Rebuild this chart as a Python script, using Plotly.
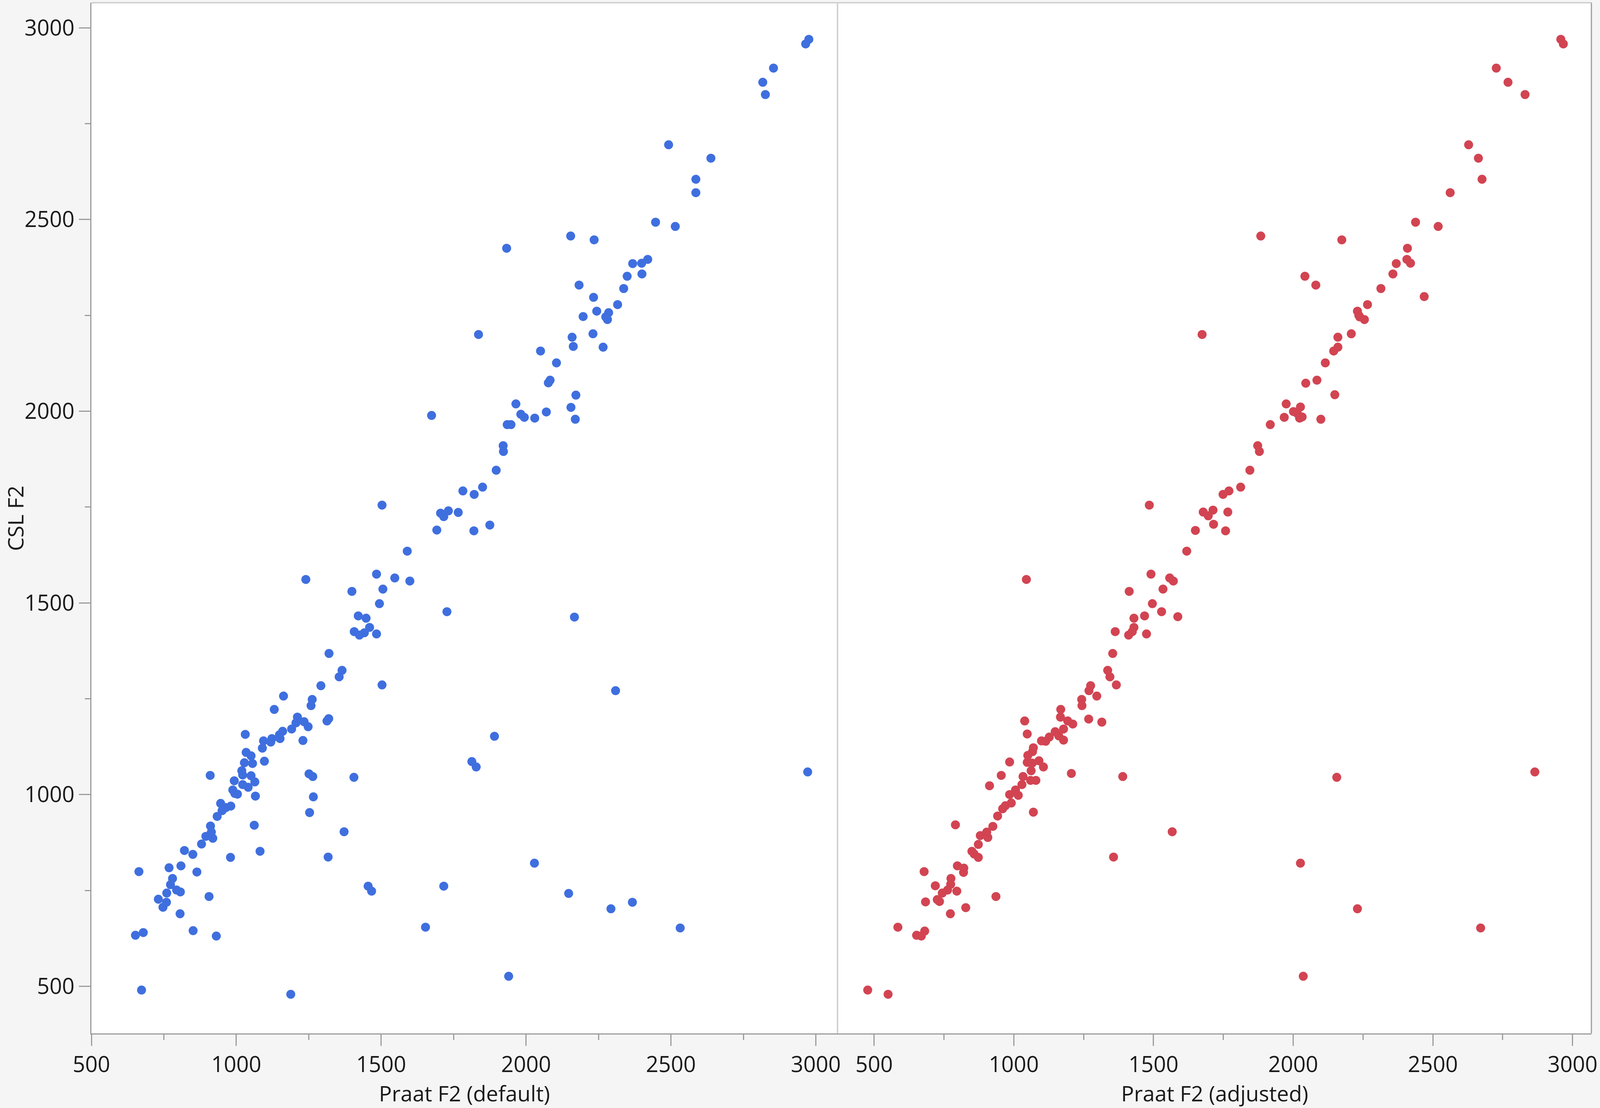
import plotly.graph_objects as go

# ---------------- data ----------------
# Left panel: Praat F2 (default) vs CSL F2
default_x = [
    2976, 2965, 2854, 2817, 2826, 2492, 2638, 2586, 2586, 2447, 2515, 2154, 2235, 1933, 2420, 2399, 2368, 2400,
    2349, 2337, 2183, 2233, 2316, 2244, 2285, 2275, 2281, 2197,
    2231, 2266, 2159, 2163, 1836, 2050, 2105, 2083, 2077, 2172,
    2155, 2170, 1965, 1982, 1994, 2030, 2070, 1935, 1948,
    1921, 1922, 1897, 1782, 1821, 1850, 1674, 1503,
    1705, 1716, 1732, 1766, 1692, 1820, 1875,
    1590, 1484, 1547, 1599, 1240, 1399, 1506, 1494, 1727, 1421, 1448, 1460, 1407, 1425, 1442, 1484,
    1320, 1365, 1355, 1503, 1292, 1163, 1262, 1258, 1131,
    1313, 1319, 1211, 1206, 1234, 1248, 1191,
    1160, 1149, 1151, 1123, 1119, 1094, 1090, 1230,
    1031, 1034, 1051, 1097, 1028, 1056,
    1019, 1022, 1051, 1064, 1022, 1041,
    910, 993, 988, 1004, 995, 1066,
    1251, 1264, 1266, 1253, 1406,
    946, 981, 964, 951, 934,
    911, 914, 895, 919, 880, 821, 850,
    1062, 1082, 980, 1372, 1317,
    768, 809, 864, 664, 780, 773, 794, 807, 760, 731, 759, 747, 906, 806,
    1455, 1467, 1716,
    851, 931, 652, 679, 1653,
    673, 1188,
    2167, 2309, 1891, 1813, 1828, 2972, 2029, 2147, 2293, 2367, 2532, 1940,
]
default_y = [
    2970, 2958, 2895, 2858, 2826, 2695, 2660, 2605, 2570, 2493, 2482, 2457, 2447, 2425, 2396, 2386, 2385, 2358,
    2352, 2320, 2329, 2297, 2278, 2261, 2257, 2246, 2239, 2247,
    2202, 2167, 2193, 2169, 2200, 2157, 2126, 2081, 2074, 2042,
    2010, 1979, 2019, 1992, 1984, 1982, 1998, 1965, 1965,
    1910, 1895, 1846, 1792, 1783, 1802, 1989, 1755,
    1734, 1725, 1740, 1736, 1690, 1688, 1703,
    1635, 1575, 1565, 1557, 1561, 1530, 1536, 1498, 1477, 1466, 1460, 1436, 1425, 1416, 1422, 1419,
    1368, 1324, 1307, 1286, 1284, 1257, 1248, 1232, 1222,
    1192, 1198, 1202, 1187, 1190, 1177, 1171,
    1165, 1156, 1146, 1146, 1137, 1140, 1121, 1141,
    1157, 1110, 1101, 1087, 1083, 1081,
    1062, 1051, 1049, 1033, 1026, 1019,
    1050, 1036, 1012, 1001, 1003, 996,
    1054, 1047, 994, 953, 1045,
    977, 970, 966, 958, 943,
    918, 902, 891, 886, 871, 854, 844,
    920, 852, 836, 903, 837,
    809, 814, 798, 799, 781, 765, 751, 746, 743, 727, 719, 706, 734, 689,
    761, 748, 761,
    645, 631, 633, 640, 654,
    490, 479,
    1463, 1271, 1152, 1086, 1072, 1059, 821, 742, 702, 719, 652, 526,
]

# Right panel: Praat F2 (adjusted) vs CSL F2
adjusted_x = [
    2958, 2967, 2727, 2769, 2830, 2628, 2663, 2676, 2562, 2438, 2519, 1884, 2174, 2409, 2407, 2420, 2369, 2357, 2469,
    2042, 2081, 2314, 2266, 2230, 2235, 2238, 2255, 2208, 2160, 2160, 2145, 2115, 2085, 2045, 2149,
    1975, 2026, 2001, 2015, 2032, 2023, 1968, 2099, 1918,
    1674, 1873, 1879, 1845, 1812, 1770, 1749,
    1766, 1678, 1713, 1696, 1715, 1485, 1650, 1758,
    1619, 1491, 1558, 1571, 1045, 1413, 1534, 1496, 1529, 1587, 1468, 1430, 1430, 1424, 1411, 1475, 1363,
    1354, 1336, 1344, 1367, 1275, 1269, 1297, 1243, 1244, 1268, 1315,
    1168, 1167, 1193, 1211, 1178, 1148, 1127, 1161, 1178, 1099, 1114,
    1039, 1048, 1070, 1067, 1050, 1090, 1106, 1048, 1066, 1062,
    985, 955, 1033, 1060, 1079, 1206, 1390, 1029, 913,
    1006, 985, 1016, 991, 970, 960, 942, 1070,
    925, 903, 880, 907, 873, 791, 850, 858, 873, 1357, 1567,
    679, 798, 821, 820, 775, 719, 774, 744, 763, 796, 726, 734, 684, 828, 773, 936,
    585, 681, 652, 669, 477, 550,
    2156, 2865, 2026, 2230, 2671, 2036,
]
adjusted_y = [
    2970, 2958, 2895, 2858, 2826, 2695, 2660, 2605, 2570, 2493, 2482, 2457, 2447, 2425, 2396, 2386, 2385, 2358, 2299,
    2352, 2329, 2320, 2278, 2261, 2250, 2246, 2239, 2202, 2193, 2167, 2157, 2126, 2081, 2073, 2043,
    2019, 2011, 1999, 1994, 1985, 1982, 1984, 1979, 1965,
    2200, 1910, 1895, 1846, 1802, 1792, 1783,
    1737, 1737, 1742, 1727, 1705, 1755, 1689, 1688,
    1635, 1575, 1565, 1557, 1561, 1530, 1536, 1498, 1477, 1464, 1466, 1460, 1436, 1425, 1416, 1419, 1425,
    1368, 1324, 1307, 1286, 1284, 1271, 1257, 1248, 1232, 1197, 1189,
    1222, 1202, 1192, 1184, 1171, 1164, 1150, 1153, 1142, 1140, 1139,
    1192, 1158, 1122, 1112, 1102, 1088, 1072, 1084, 1082, 1062,
    1085, 1050, 1047, 1037, 1037, 1055, 1047, 1026, 1023,
    1012, 1000, 998, 978, 971, 963, 944, 954,
    917, 902, 893, 888, 870, 921, 852, 845, 836, 837, 903,
    799, 814, 808, 797, 781, 762, 766, 743, 751, 748, 726, 721, 720, 705, 689, 734,
    654, 644, 633, 631, 490, 479,
    1045, 1059, 821, 702, 652, 526,
]

x_tick_vals = [500, 1000, 1500, 2000, 2500, 3000]
x_tick_text = ["500", "1000", "1500", "2000", "2500", "3000"]
x_minor_vals = [750, 1250, 1750, 2250, 2750]
y_tick_vals = [500, 1000, 1500, 2000, 2500, 3000]
y_tick_text = ["500", "1000", "1500", "2000", "2500", "3000"]
y_minor_vals = [750, 1250, 1750, 2250, 2750]

# ---------------- styling ----------------
W, H = 4317, 2836
ML, MR, MT, MB = 247, 7, 7, 191
PW, PH = W - ML - MR, H - MT - MB
SPLIT = (2268 - ML) / PW

BLUE = "#3F6FDF"
RED = "#D24452"
AXIS = "#9C9C9C"
LIGHT = "#D2D2D2"
TXT = "#1A1A1A"
FONT = "Segoe UI, Open Sans, Noto Sans, sans-serif"
FS = 56
FS_TITLE = 55

fig = go.Figure()
fig.add_trace(go.Scatter(
    x=default_x, y=default_y, mode="markers", xaxis="x", yaxis="y",
    marker=dict(color=BLUE, size=23, line=dict(width=0)), showlegend=False,
))
fig.add_trace(go.Scatter(
    x=adjusted_x, y=adjusted_y, mode="markers", xaxis="x2", yaxis="y2",
    marker=dict(color=RED, size=23, line=dict(width=0)), showlegend=False,
))

common_x = dict(
    tickvals=x_tick_vals, ticktext=x_tick_text, ticks="outside", ticklen=29, tickwidth=3,
    tickcolor=AXIS, showline=True, linecolor=AXIS, linewidth=3, showgrid=False, zeroline=False,
    minor=dict(tickvals=x_minor_vals, ticks="outside", ticklen=14, tickwidth=3, tickcolor=AXIS, showgrid=False),
    tickfont=dict(size=FS, family=FONT, color=TXT),
    ticklabeloverflow="allow",
)

title_y = -(2798 - (H - MB)) / PH

fig.update_layout(
    width=W, height=H,
    margin=dict(l=ML, r=MR, t=MT, b=MB, pad=0),
    paper_bgcolor="#F5F5F5", plot_bgcolor="white",
    xaxis=dict(domain=[0, SPLIT], range=[500, 3075], anchor="y", **common_x),
    xaxis2=dict(domain=[SPLIT, 1], range=[369, 3067.5], anchor="y2", **common_x),
    yaxis=dict(
        domain=[0, 1], range=[377, 3065.5], anchor="x",
        tickvals=y_tick_vals, ticktext=y_tick_text, ticks="outside", ticklen=29, tickwidth=3,
        tickcolor=AXIS, showline=True, linecolor=AXIS, linewidth=3, showgrid=False, zeroline=False,
        minor=dict(tickvals=y_minor_vals, ticks="outside", ticklen=14, tickwidth=3, tickcolor=AXIS, showgrid=False),
        tickfont=dict(size=FS, family=FONT, color=TXT),
        ticklabeloverflow="allow",
    ),
    yaxis2=dict(
        domain=[0, 1], range=[377, 3065.5], anchor="x2", matches="y",
        showticklabels=False, ticks="", showline=False, showgrid=False, zeroline=False,
    ),
    shapes=[
        dict(type="line", xref="paper", yref="paper", x0=0, x1=1, y0=1, y1=1,
             line=dict(color="#C8C8C8", width=3)),
        dict(type="line", xref="paper", yref="paper", x0=SPLIT, x1=SPLIT, y0=0, y1=1,
             line=dict(color=LIGHT, width=4)),
        dict(type="line", xref="paper", yref="paper", x0=1, x1=1, y0=0, y1=1,
             line=dict(color=AXIS, width=3)),
    ],
    annotations=[
        dict(text="CSL F2", xref="paper", yref="paper", x=(40 - ML) / PW, y=0.5,
             xanchor="center", yanchor="middle", textangle=-90, showarrow=False,
             font=dict(size=FS_TITLE, family=FONT, color=TXT)),
        dict(text="Praat F2 (default)", xref="paper", yref="paper", x=SPLIT / 2, y=title_y,
             xanchor="center", yanchor="middle", showarrow=False,
             font=dict(size=FS_TITLE, family=FONT, color=TXT)),
        dict(text="Praat F2 (adjusted)", xref="paper", yref="paper", x=(SPLIT + 1) / 2, y=title_y,
             xanchor="center", yanchor="middle", showarrow=False,
             font=dict(size=FS_TITLE, family=FONT, color=TXT)),
    ],
)

# Fit the figure to the actual browser viewport, keeping margins proportional.
fit_js = """
document.body.style.margin='0';
document.documentElement.style.overflow='hidden';
document.body.style.overflow='hidden';
var gd = document.getElementById('{plot_id}');
var w = window.innerWidth || %d, h = window.innerHeight || %d;
Plotly.relayout(gd, {width: w, height: h,
  'margin.l': %d * w / %d, 'margin.r': %d * w / %d,
  'margin.t': %d * h / %d, 'margin.b': %d * h / %d});
""" % (W, H, ML, W, MR, W, MT, H, MB, H)

fig.write_html("out.html", post_script=fit_js, config={"displayModeBar": False})
